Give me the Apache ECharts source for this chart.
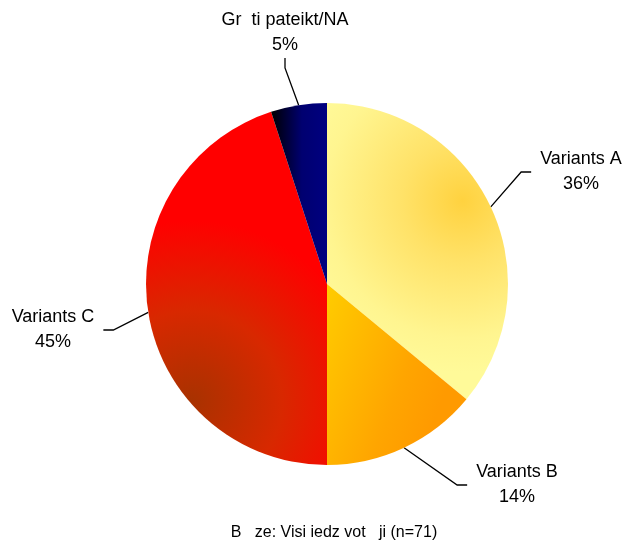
<!DOCTYPE html>
<html>
<head>
<meta charset="utf-8">
<script src="https://cdn.jsdelivr.net/npm/echarts@6/dist/echarts.min.js"></script>
<style>html,body{margin:0;padding:0;background:#fff;}#c{width:628px;height:546px;}</style>
</head>
<body>
<div id="c"></div>
<script>
var categories = ['Variants A', 'Variants B', 'Variants C', 'Gr  ti pateikt/NA'];
var values = [36, 14, 45, 5];
var footerText = 'B   ze: Visi iedz vot   ji (n=71)';

var fills = [
  {type:'radial', x:0.75, y:0.33, r:0.95, colorStops:[{offset:0,color:'#FFD23F'},{offset:0.35,color:'#FFE268'},{offset:0.8,color:'#FFF590'},{offset:1,color:'#FFFA99'}]},
  {type:'linear', x:0, y:0, x2:1, y2:0.3, colorStops:[{offset:0,color:'#FFCC00'},{offset:0.7,color:'#FFA500'},{offset:1,color:'#FF9A00'}]},
  {type:'radial', x:0.25, y:0.82, r:1.0, colorStops:[{offset:0,color:'#A83200'},{offset:0.5,color:'#D82800'},{offset:1,color:'#FF0000'}]},
  {type:'linear', x:0, y:0, x2:1, y2:0, colorStops:[{offset:0,color:'#000000'},{offset:0.55,color:'#000070'},{offset:1,color:'#000080'}]}
];
var labelPos = [[581,172],[517,485],[53,330],[285,33]];

var data = categories.map(function(c,i){
  return {name:c, value:values[i], itemStyle:{color:fills[i]}};
});

var chart = echarts.init(document.getElementById('c'), null, {renderer:'canvas'});
chart.setOption({
  animation:false,
  backgroundColor:'#ffffff',
  graphic:[{type:'text', x:334, y:533, style:{text:footerText, font:'16px "Liberation Sans", Arial, sans-serif', fill:'#000', align:'center', verticalAlign:'middle'}}],
  series:[{
    type:'pie',
    center:[327,284],
    radius:[0,181],
    startAngle:90,
    clockwise:true,
    avoidLabelOverlap:false,
    data:data,
    itemStyle:{borderWidth:0},
    label:{
      show:true,
      position:'outside',
      formatter:function(p){return p.name+'\n'+Math.round(p.percent)+'%';},
      fontFamily:'"Liberation Sans", Arial, sans-serif',
      fontSize:18,
      lineHeight:25,
      color:'#000',
      align:'center',
      padding:[0,9]
    },
    labelLine:{show:true, length:20, length2:10, smooth:false, lineStyle:{color:'#000', width:1.3}},
    labelLayout:function(p){
      var pos = labelPos[p.dataIndex];
      return {x:pos[0], y:pos[1], align:'center', verticalAlign:'middle'};
    },
    emphasis:{disabled:true}
  }]
});
</script>
</body>
</html>
